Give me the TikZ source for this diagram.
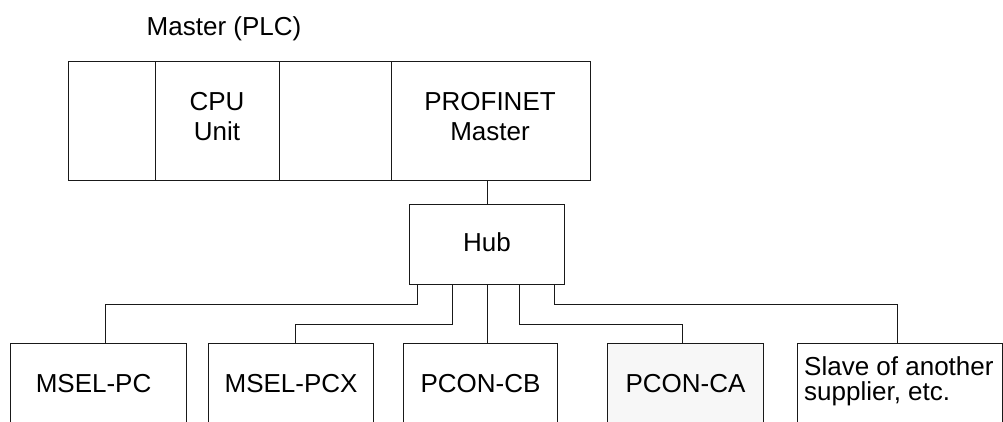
\documentclass[tikz,border=0pt]{standalone}
\usepackage{fontspec}
\setmainfont{Liberation Sans}
\begin{document}
\begin{tikzpicture}[x=1pt,y=-1pt,
  box/.style={draw=black!90, line width=1.1pt, inner sep=0pt, anchor=north west},
  txt/.style={font=\fontsize{26}{30}\selectfont, inner sep=0pt, align=center},
  btxt/.style={font=\fontsize{26}{30}\selectfont, text height=18.6pt, text depth=10.6pt},
  wire/.style={draw=black!90, line width=1.1pt}]
\useasboundingbox (0,0) rectangle (1003,422);
\clip (0,0) rectangle (1003,422);
% title
\node[txt, anchor=base] (title) at (224,36) {Master (PLC)};
% PLC compartments
\node[box, minimum width=87, minimum height=119] (slot1) at (68,61) {};
\node[box, minimum width=124, minimum height=119] (cpu) at (155,61) {};
\node[box, minimum width=112, minimum height=119] (slot3) at (279,61) {};
\node[box, minimum width=199, minimum height=119] (pnm) at (391,61) {};
\node[txt, anchor=north] (cputxt) at (217,92.4) {CPU\\Unit};
\node[txt, anchor=north] (pnmtxt) at (490,92.4) {PROFINET\\Master};
% hub
\node[box, minimum width=155, minimum height=80, font=\fontsize{26}{30}\selectfont,
      text height=18.6pt, text depth=4.6pt] (hub) at (409,204) {Hub};
% slaves
\node[box, btxt, minimum width=176, minimum height=90] (mselpc) at (10,343) {\hspace*{-10pt}MSEL-PC};
\node[box, btxt, minimum width=165, minimum height=90] (mselpcx) at (208,343) {MSEL-PCX};
\node[box, btxt, minimum width=154, minimum height=90] (pconcb) at (403,343) {PCON-CB};
\node[box, btxt, minimum width=156, minimum height=90, fill=black!3] (pconca) at (607,343) {PCON-CA};
\node[box, minimum width=205, minimum height=90] (slave) at (797,343) {};
\node[inner sep=0pt, anchor=north west, align=left, font=\fontsize{26}{25}\selectfont] (slavetxt) at (804,356.4) {Slave of another\\supplier, etc.};
% wires
\draw[wire] (hub.north) -- (hub.north |- pnm.south);
\draw[wire] ([xshift=-69.5]hub.south) -- ++(0,19) -| ([xshift=7]mselpc.north);
\draw[wire] ([xshift=-34.5]hub.south) -- ++(0,39) -| ([xshift=4.5]mselpcx.north);
\draw[wire] (hub.south) -- (hub.south |- pconcb.north);
\draw[wire] ([xshift=32.5]hub.south) -- ++(0,39) -| ([xshift=-3]pconca.north);
\draw[wire] ([xshift=67.5]hub.south) -- ++(0,19) -| ([xshift=-2.5]slave.north);
\end{tikzpicture}
\end{document}
